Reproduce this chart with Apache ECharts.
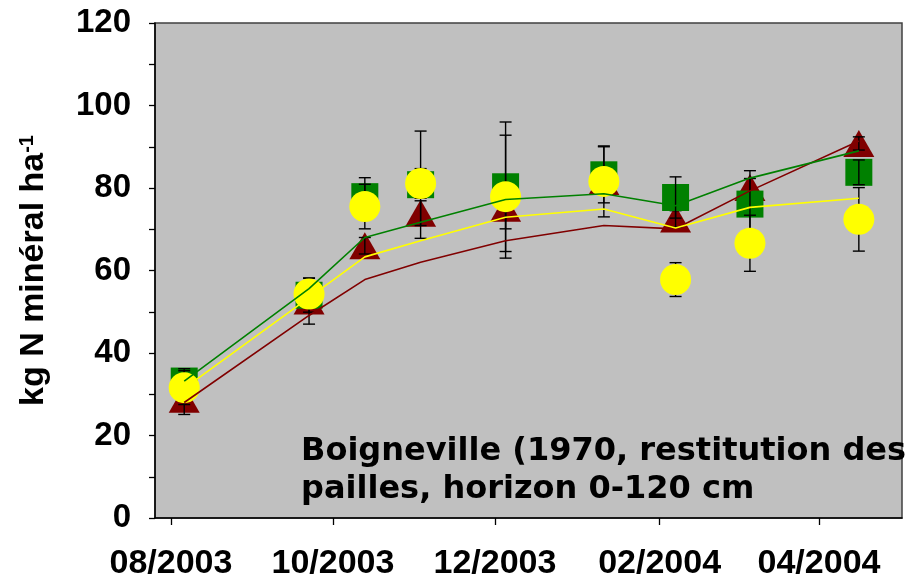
<!DOCTYPE html>
<html>
<head>
<meta charset="utf-8">
<script src="https://cdn.jsdelivr.net/npm/echarts@6/dist/echarts.min.js"></script>
<style>
  html, body { margin: 0; padding: 0; background: #ffffff; }
  #chart { width: 905px; height: 581px; }
</style>
</head>
<body>
<div id="chart"></div>
<script>
// Sampling dates (yyyy-mm-dd)
const sampleDates = ['2003-08-06', '2003-09-22', '2003-10-13', '2003-11-03', '2003-12-05',
                     '2004-01-11', '2004-02-07', '2004-03-06', '2004-04-16'];

// Axis tick dates, shown as MM/yyyy
const tickDates = ['2003-08-01', '2003-10-01', '2003-12-01', '2004-02-01', '2004-04-01'];
const axisStart = '2003-07-26';
const axisEnd = '2004-05-02';

// Measured mineral N (kg N/ha) with standard errors
const measGreen = [33.2, 54.0, 77.9, 80.8, 80.3, 83.2, 77.7, 76.1, 83.8];
const errGreen  = [3.0, 4.1, 4.6, 13.0, 15.7, 6.8, 5.0, 6.2, 3.0];
const measRed   = [28.8, 52.6, 66.0, 73.9, 75.1, 81.6, 72.5, 80.1, 90.8];
const errRed    = [3.7, 5.6, 2.0, 3.0, 5.0, 2.0, 2.0, 4.1, 1.6];
const measYellow = [31.6, 54.3, 75.5, 81.1, 77.9, 81.6, 57.8, 66.6, 72.4];
const errYellow  = [4.1, 2.0, 5.4, 3.6, 14.9, 8.6, 4.1, 6.8, 7.7];

// Simulated mineral N (kg N/ha)
const simGreen  = [33.2, 55.6, 68.0, 71.7, 77.2, 78.6, 75.7, 82.4, 89.0];
const simYellow = [31.4, 53.4, 63.3, 67.2, 72.9, 74.9, 70.3, 75.3, 77.5];
const simRed    = [28.0, 49.1, 57.8, 62.0, 67.2, 70.9, 70.1, 79.3, 91.4];

const yTicks = { min: 0, max: 120, step: 20 };

function toMs(s) {
  const p = s.split('-').map(Number);
  return Date.UTC(p[0], p[1] - 1, p[2]);
}
const xs = sampleDates.map(toMs);
const pairs = vals => vals.map((v, i) => [xs[i], v]);
const bars = (vals, errs) => vals.map((v, i) => [xs[i], v - errs[i], v + errs[i]]);

function errorBars(vals, errs, z) {
  return {
    type: 'custom',
    z: z,
    data: bars(vals, errs),
    encode: { x: 0, y: [1, 2] },
    renderItem: function (params, api) {
      const x = api.value(0);
      const lo = api.coord([x, api.value(1)]);
      const hi = api.coord([x, api.value(2)]);
      const w = 6;
      const st = { stroke: '#000000', lineWidth: 1.4 };
      return {
        type: 'group',
        children: [
          { type: 'line', shape: { x1: hi[0], y1: hi[1], x2: lo[0], y2: lo[1] }, style: st },
          { type: 'line', shape: { x1: hi[0] - w, y1: hi[1], x2: hi[0] + w, y2: hi[1] }, style: st },
          { type: 'line', shape: { x1: lo[0] - w, y1: lo[1], x2: lo[0] + w, y2: lo[1] }, style: st }
        ]
      };
    }
  };
}

function markers(vals, symbol, size, color, z) {
  return {
    type: 'scatter',
    z: z,
    symbol: symbol,
    symbolSize: size,
    itemStyle: { color: color, opacity: 1 },
    data: pairs(vals)
  };
}

function simLine(vals, color, z) {
  return {
    type: 'line',
    z: z,
    showSymbol: false,
    symbol: 'none',
    lineStyle: { color: color, width: 1.6 },
    data: pairs(vals)
  };
}

const fmtMonth = v => {
  const d = new Date(v);
  const m = d.getUTCMonth() + 1;
  return (m < 10 ? '0' : '') + m + '/' + d.getUTCFullYear();
};

const chart = echarts.init(document.getElementById('chart'), null, { renderer: 'canvas' });
chart.setOption({
  animation: false,
  backgroundColor: '#ffffff',
  grid: {
    left: 155, right: 3, top: 23, bottom: 60,
    show: true, backgroundColor: '#C0C0C0', borderColor: '#404040', borderWidth: 1.5
  },
  title: {
    text: 'Boigneville (1970, restitution des\npailles, horizon 0-120 cm',
    left: 296, top: 428,
    textStyle: {
      fontFamily: 'DejaVu Sans', fontWeight: 'bold', fontSize: 32,
      lineHeight: 38, color: '#000000'
    }
  },
  xAxis: {
    type: 'value',
    min: toMs(axisStart),
    max: toMs(axisEnd) + 6 * 3600 * 1000,
    axisLine: { show: true, lineStyle: { color: '#000000', width: 1.5 } },
    axisTick: {
      show: true, inside: false, length: 7,
      customValues: tickDates.map(toMs),
      lineStyle: { color: '#000000', width: 1.3 }
    },
    axisLabel: {
      customValues: tickDates.map(toMs),
      formatter: fmtMonth,
      margin: 29,
      fontFamily: 'Liberation Sans', fontWeight: 'bold', fontSize: 34, color: '#000000'
    },
    splitLine: { show: false }
  },
  yAxis: {
    type: 'value',
    min: yTicks.min, max: yTicks.max, interval: yTicks.step,
    name: '{a|kg N minéral ha}{b|-1}',
    nameLocation: 'middle',
    nameRotate: 90,
    nameGap: 104,
    nameTextStyle: {
      rich: {
        a: { fontFamily: 'Liberation Sans', fontWeight: 'bold', fontSize: 34, color: '#000000' },
        b: { fontFamily: 'Liberation Sans', fontWeight: 'bold', fontSize: 20, color: '#000000', verticalAlign: 'top' }
      }
    },
    axisLine: { show: true, lineStyle: { color: '#000000', width: 1.5 } },
    axisTick: { show: true, inside: false, length: 6, lineStyle: { color: '#000000', width: 1.3 } },
    minorTick: { show: true, splitNumber: 2, length: 6, lineStyle: { color: '#000000', width: 1.3 } },
    axisLabel: {
      margin: 24,
      fontFamily: 'Liberation Sans', fontWeight: 'bold', fontSize: 33, color: '#000000'
    },
    splitLine: { show: false }
  },
  series: [
    markers(measRed, 'triangle', [31, 27], '#800000', 3),
    errorBars(measRed, errRed, 4),
    markers(measGreen, 'rect', 27, '#008000', 5),
    errorBars(measGreen, errGreen, 6),
    errorBars(measYellow, errYellow, 7),
    markers(measYellow, 'circle', 31, '#FFFF00', 8),
    simLine(simRed, '#800000', 9),
    simLine(simYellow, '#FFFF00', 10),
    simLine(simGreen, '#008000', 11)
  ]
});
</script>
</body>
</html>
